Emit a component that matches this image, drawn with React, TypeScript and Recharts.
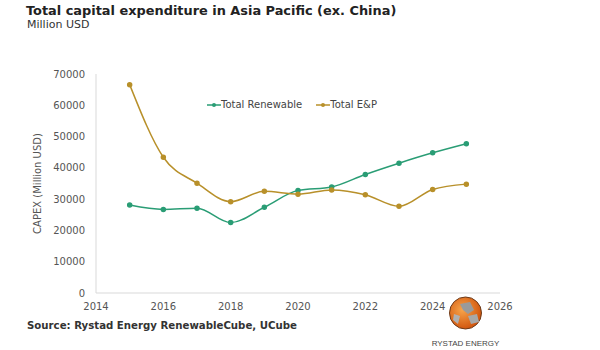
import React from "react";
import { LineChart, Line, XAxis, YAxis, Legend } from "recharts";

const years = [2015, 2016, 2017, 2018, 2019, 2020, 2021, 2022, 2023, 2024, 2025];
const renewable = [28100, 26700, 27100, 22500, 27400, 32800, 33900, 37900, 41500, 44800, 47700];
const exploration = [66600, 43400, 35100, 29200, 32500, 31600, 32900, 31400, 27700, 33100, 34800];
const xTicks = [2014, 2016, 2018, 2020, 2022, 2024, 2026];
const yTicks = [0, 10000, 20000, 30000, 40000, 50000, 60000, 70000];
const seriesNames = ["Total Renewable", "Total E&P"];

const data = years.map((y, i) => ({ year: y, renewable: renewable[i], ep: exploration[i] }));

const GREEN = "#2a9d75";
const GOLD = "#b8902a";
const FONT = "Verdana, 'DejaVu Sans', sans-serif";

const LegendContent = (props: any) => {
  const { payload } = props;
  const items = [...(payload || [])].sort(
    (a: any, b: any) => seriesNames.indexOf(a.value) - seriesNames.indexOf(b.value)
  );
  return (
    <div style={{ display: "flex", fontFamily: FONT, fontSize: 10, color: "#444", lineHeight: "12px" }}>
      {items.map((p: any) => (
        <div key={p.value} style={{ display: "flex", alignItems: "center", marginRight: 14 }}>
          <svg width={14} height={8}>
            <line x1={0} y1={4} x2={14} y2={4} stroke={p.color} strokeWidth={1.5} />
            <circle cx={7} cy={4} r={2} fill={p.color} />
          </svg>
          <span>{p.value}</span>
        </div>
      ))}
    </div>
  );
};

export default function App() {
  return (
    <div style={{ position: "absolute", left: 0, top: 0, width: 600, height: 350, background: "#fff", fontFamily: FONT }}>
      <div style={{ position: "absolute", left: 26, top: 2, fontSize: 12.9, lineHeight: "17px", fontWeight: "bold", color: "#222", whiteSpace: "nowrap" }}>
        Total capital expenditure in Asia Pacific (ex. China)
      </div>
      <div style={{ position: "absolute", left: 27, top: 18, fontSize: 11, lineHeight: "14px", color: "#333", whiteSpace: "nowrap" }}>Million USD</div>
      <LineChart width={600} height={350} data={data} margin={{ top: 62, right: 100, bottom: 37, left: 30 }}>
        <XAxis
          dataKey="year"
          type="number"
          domain={[2014, 2026]}
          ticks={xTicks}
          tickLine={false}
          stroke="#d9d9d9"
          tick={{ fill: "#555", fontSize: 10, fontFamily: FONT }}
          height={20}
          tickMargin={4}
        />
        <YAxis
          domain={[0, 70000]}
          ticks={yTicks}
          tickLine={false}
          stroke="#d9d9d9"
          width={66}
          tick={{ fill: "#555", fontSize: 10, fontFamily: FONT }}
          tickMargin={5}
          label={{ value: "CAPEX (Million USD)", angle: -90, position: "insideLeft", offset: 7, style: { fill: "#555", fontSize: 10, fontFamily: FONT, textAnchor: "middle" } }}
        />
        <Legend
          content={<LegendContent />}
          layout="horizontal"
          verticalAlign="top"
          wrapperStyle={{ position: "absolute", top: 99, left: 207, width: 260 }}
        />
        <Line type="monotone" dataKey="renewable" name="Total Renewable" stroke={GREEN} strokeWidth={1.5} dot={{ r: 2, fill: GREEN, stroke: GREEN }} isAnimationActive={false} />
        <Line type="monotone" dataKey="ep" name="Total E&P" stroke={GOLD} strokeWidth={1.5} dot={{ r: 2, fill: GOLD, stroke: GOLD }} isAnimationActive={false} />
      </LineChart>
      <div style={{ position: "absolute", left: 27, top: 319, fontSize: 10.2, lineHeight: "13px", fontWeight: "bold", color: "#333", whiteSpace: "nowrap" }}>
        Source: Rystad Energy RenewableCube, UCube
      </div>
      <svg style={{ position: "absolute", left: 430, top: 296 }} width={80} height={54}>
        <defs>
          <radialGradient id="g" cx="40%" cy="40%" r="60%">
            <stop offset="0%" stopColor="#f7a44a" />
            <stop offset="100%" stopColor="#d2570f" />
          </radialGradient>
        </defs>
        <circle cx={35.5} cy={17} r={16} fill="url(#g)" stroke="#6b3a1a" strokeWidth={1} />
        <path d="M30 8 L40 6 L44 14 L38 18 L33 14 Z" fill="#9a9a9a" />
        <path d="M38 20 L47 18 L49 26 L41 28 Z" fill="#a8a8a8" />
        <path d="M24 18 L30 20 L28 28 L23 24 Z" fill="#b0b0b0" />
        <text x={35.5} y={50} textAnchor="middle" fontSize={8} fill="#444" fontFamily="'Liberation Sans Narrow', Arial, sans-serif">RYSTAD ENERGY</text>
      </svg>
    </div>
  );
}
